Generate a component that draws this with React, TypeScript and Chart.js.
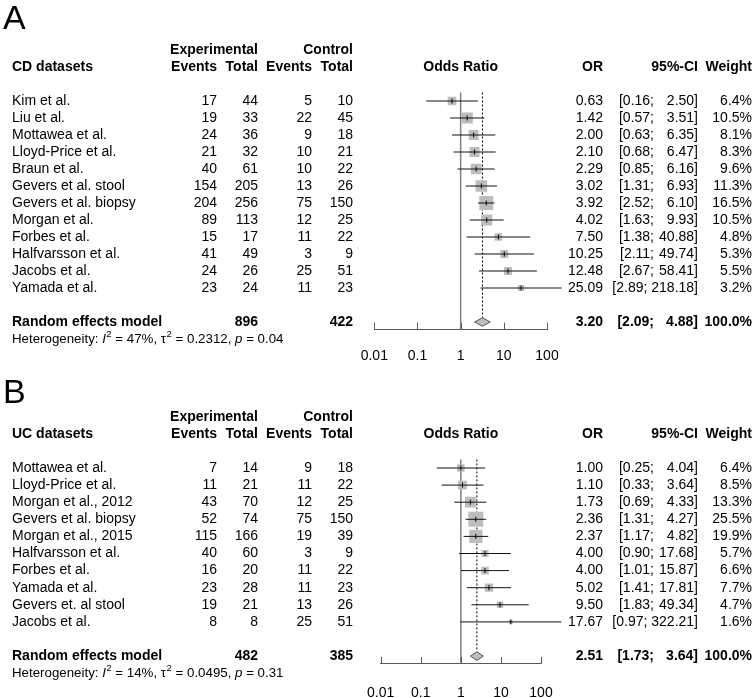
import React, { useEffect, useRef } from "react";
import { Chart, registerables } from "chart.js";

Chart.register(...registerables);

const FONT = "'Liberation Sans', Arial, Helvetica, sans-serif";

// ---------- Panel A: CD datasets ----------
const studiesA = [
  "Kim et al.", "Liu et al.", "Mottawea et al.", "Lloyd-Price et al.", "Braun et al.",
  "Gevers et al. stool", "Gevers et al. biopsy", "Morgan et al.", "Forbes et al.",
  "Halfvarsson et al.", "Jacobs et al.", "Yamada et al.",
];
const expEventsA = [17, 19, 24, 21, 40, 154, 204, 89, 15, 41, 24, 23];
const expTotalA = [44, 33, 36, 32, 61, 205, 256, 113, 17, 49, 26, 24];
const ctrlEventsA = [5, 22, 9, 10, 10, 13, 75, 12, 11, 3, 25, 11];
const ctrlTotalA = [10, 45, 18, 21, 22, 26, 150, 25, 22, 9, 51, 23];
const orA = [0.63, 1.42, 2.0, 2.1, 2.29, 3.02, 3.92, 4.02, 7.5, 10.25, 12.48, 25.09];
const loA = [0.16, 0.57, 0.63, 0.68, 0.85, 1.31, 2.52, 1.63, 1.38, 2.11, 2.67, 2.89];
const hiA = [2.5, 3.51, 6.35, 6.47, 6.16, 6.93, 6.1, 9.93, 40.88, 49.74, 58.41, 218.18];
const weightA = [6.4, 10.5, 8.1, 8.3, 9.6, 11.3, 16.5, 10.5, 4.8, 5.3, 5.5, 3.2];
const pooledA = { or: 3.2, lo: 2.09, hi: 4.88, expTotal: 896, ctrlTotal: 422 };
const hetA = { i2: "47", tau2: "0.2312", p: "0.04" };

// ---------- Panel B: UC datasets ----------
const studiesB = [
  "Mottawea et al.", "Lloyd-Price et al.", "Morgan et al., 2012", "Gevers et al. biopsy",
  "Morgan et al., 2015", "Halfvarsson et al.", "Forbes et al.", "Yamada et al.",
  "Gevers et. al stool", "Jacobs et al.",
];
const expEventsB = [7, 11, 43, 52, 115, 40, 16, 23, 19, 8];
const expTotalB = [14, 21, 70, 74, 166, 60, 20, 28, 21, 8];
const ctrlEventsB = [9, 11, 12, 75, 19, 3, 11, 11, 13, 25];
const ctrlTotalB = [18, 22, 25, 150, 39, 9, 22, 23, 26, 51];
const orB = [1.0, 1.1, 1.73, 2.36, 2.37, 4.0, 4.0, 5.02, 9.5, 17.67];
const loB = [0.25, 0.33, 0.69, 1.31, 1.17, 0.9, 1.01, 1.41, 1.83, 0.97];
const hiB = [4.04, 3.64, 4.33, 4.27, 4.82, 17.68, 15.87, 17.81, 49.34, 322.21];
const weightB = [6.4, 8.5, 13.3, 25.5, 19.9, 5.7, 6.6, 7.7, 4.7, 1.6];
const pooledB = { or: 2.51, lo: 1.73, hi: 3.64, expTotal: 482, ctrlTotal: 385 };
const hetB = { i2: "14", tau2: "0.0495", p: "0.31" };

// axis
const AXIS_TICKS = [0.01, 0.1, 1, 10, 100];
const AXIS_LABELS = ["0.01", "0.1", "1", "10", "100"];

const AXIS_H = 40;
const AXIS_COLOR = "#5a5a5a";

type PanelSpec = {
  letter: string;
  title: string;
  studies: string[];
  expEvents: number[];
  expTotal: number[];
  ctrlEvents: number[];
  ctrlTotal: number[];
  or: number[];
  lo: number[];
  hi: number[];
  weight: number[];
  pooled: { or: number; lo: number; hi: number; expTotal: number; ctrlTotal: number };
  het: { i2: string; tau2: string; p: string };
  canvasTop: number;
  canvasH: number;
  firstRowY: number;
  rowH: number;
  xLeft: number;
  xRight: number;
  boxMax: number;
  tickPad: number;
  letterBaseline: number;
};

const panelA: PanelSpec = {
  letter: "A", title: "CD datasets", studies: studiesA,
  expEvents: expEventsA, expTotal: expTotalA, ctrlEvents: ctrlEventsA, ctrlTotal: ctrlTotalA,
  or: orA, lo: loA, hi: hiA, weight: weightA, pooled: pooledA, het: hetA,
  canvasTop: 0, canvasH: 380, firstRowY: 101, rowH: 17, xLeft: 374.3, xRight: 547,
  boxMax: 14, tickPad: 18, letterBaseline: 29,
};

const panelB: PanelSpec = {
  letter: "B", title: "UC datasets", studies: studiesB,
  expEvents: expEventsB, expTotal: expTotalB, ctrlEvents: ctrlEventsB, ctrlTotal: ctrlTotalB,
  or: orB, lo: loB, hi: hiB, weight: weightB, pooled: pooledB, het: hetB,
  canvasTop: 349, canvasH: 370, firstRowY: 119, rowH: 17.1, xLeft: 380.7, xRight: 541,
  boxMax: 15, tickPad: 20.5, letterBaseline: 54,
};

// column anchors (right-aligned unless noted)
const COL_NAME = 12;
const COL_EXP_EV = 217;
const COL_EXP_TOT = 258;
const COL_CTL_EV = 312;
const COL_CTL_TOT = 353;
const COL_OR = 603;
const COL_CI_LO = 654;
const COL_CI_HI = 698;
const COL_W = 752;

function makeConfig(p: PanelSpec): any {
  const n = p.studies.length;
  const yMin = -3.5;
  const yMax = n + 2.45;
  const axisY = p.firstRowY + (yMax - 1) * p.rowH;
  const top = p.firstRowY - (1 - yMin) * p.rowH;
  const wMax = Math.max(...p.weight);
  const randRow = n + 2;
  const hetRow = n + 3;
  const dH = 0.25;

  const points = p.or.map((v, i) => ({ x: v, y: i + 1 }));

  const ciSets = p.or.map((_, i) => ({
    type: "line",
    data: [{ x: p.lo[i], y: i + 1 }, { x: p.hi[i], y: i + 1 }],
    borderColor: "#111",
    borderWidth: 1,
    pointRadius: 0,
    fill: false,
    clip: false,
    order: 2,
  }));

  const datasets: any[] = [
    {
      type: "scatter",
      data: points,
      pointStyle: "line",
      pointRotation: 90,
      pointRadius: 2.5,
      pointBorderColor: "#000",
      pointBorderWidth: 1,
      order: 0,
    },
    {
      type: "line",
      data: [
        { x: p.pooled.lo, y: randRow },
        { x: p.pooled.or, y: randRow - dH },
        { x: p.pooled.hi, y: randRow },
        { x: p.pooled.or, y: randRow + dH },
        { x: p.pooled.lo, y: randRow },
      ],
      borderColor: "#555",
      borderWidth: 1,
      backgroundColor: "#bebebe",
      fill: "shape",
      pointRadius: 0,
      tension: 0,
      order: 1,
    },
    ...ciSets,
    {
      type: "scatter",
      data: points,
      pointStyle: "rect",
      pointRadius: p.weight.map((w) => (p.boxMax * Math.sqrt(w / wMax)) / Math.SQRT2),
      pointBackgroundColor: "#bdbdbd",
      pointBorderWidth: 0,
      order: 3,
    },
    {
      type: "line",
      data: [{ x: p.pooled.or, y: 0.5 }, { x: p.pooled.or, y: randRow - dH }],
      borderColor: "#000",
      borderWidth: 1,
      borderDash: [2, 2],
      pointRadius: 0,
      fill: false,
      order: 4,
    },
    {
      type: "line",
      data: [{ x: 1, y: 0.5 }, { x: 1, y: yMax }],
      borderColor: "#808080",
      borderWidth: 1.5,
      pointRadius: 0,
      fill: false,
      clip: false,
      order: 5,
    },
  ];

  const textPlugin = {
    id: "forestText" + p.letter,
    afterDraw(chart: any) {
      const ctx = chart.ctx as CanvasRenderingContext2D;
      const ys = chart.scales.y;
      const xs = chart.scales.x;
      const rowPx = (r: number) => ys.getPixelForValue(r);
      ctx.save();
      ctx.fillStyle = "#000";

      // panel letter
      ctx.font = `34px ${FONT}`;
      ctx.textAlign = "left";
      ctx.textBaseline = "alphabetic";
      ctx.fillText(p.letter, 3, p.letterBaseline);

      const setFont = (bold: boolean) => {
        ctx.font = `${bold ? "bold " : ""}14px ${FONT}`;
      };
      const put = (s: string, x: number, row: number, align: CanvasTextAlign, bold = false) => {
        setFont(bold);
        ctx.textAlign = align;
        ctx.textBaseline = "middle";
        ctx.fillText(s, x, rowPx(row));
      };
      const putCI = (lo: number, hi: number, row: number, bold = false) => {
        setFont(bold);
        const hiStr = hi.toFixed(2) + "]";
        const loStr = "[" + lo.toFixed(2) + ";";
        const hiLeft = COL_CI_HI - ctx.measureText(hiStr).width;
        const gap = ctx.measureText(" ").width;
        const loRight = Math.min(COL_CI_LO, hiLeft - gap);
        put(hiStr, COL_CI_HI, row, "right", bold);
        put(loStr, loRight, row, "right", bold);
      };

      // headers
      put("Experimental", COL_EXP_TOT, -2, "right", true);
      put("Control", COL_CTL_TOT, -2, "right", true);
      put(p.title, COL_NAME, -1, "left", true);
      put("Events", COL_EXP_EV, -1, "right", true);
      put("Total", COL_EXP_TOT, -1, "right", true);
      put("Events", COL_CTL_EV, -1, "right", true);
      put("Total", COL_CTL_TOT, -1, "right", true);
      put("Odds Ratio", xs.getPixelForValue(1), -1, "center", true);
      put("OR", COL_OR, -1, "right", true);
      put("95%-CI", COL_CI_HI, -1, "right", true);
      put("Weight", COL_W, -1, "right", true);

      // study rows
      p.studies.forEach((s, i) => {
        const r = i + 1;
        put(s, COL_NAME, r, "left");
        put(String(p.expEvents[i]), COL_EXP_EV, r, "right");
        put(String(p.expTotal[i]), COL_EXP_TOT, r, "right");
        put(String(p.ctrlEvents[i]), COL_CTL_EV, r, "right");
        put(String(p.ctrlTotal[i]), COL_CTL_TOT, r, "right");
        put(p.or[i].toFixed(2), COL_OR, r, "right");
        putCI(p.lo[i], p.hi[i], r);
        put(p.weight[i].toFixed(1) + "%", COL_W, r, "right");
      });

      // pooled row
      put("Random effects model", COL_NAME, randRow, "left", true);
      put(String(p.pooled.expTotal), COL_EXP_TOT, randRow, "right", true);
      put(String(p.pooled.ctrlTotal), COL_CTL_TOT, randRow, "right", true);
      put(p.pooled.or.toFixed(2), COL_OR, randRow, "right", true);
      putCI(p.pooled.lo, p.pooled.hi, randRow, true);
      put("100.0%", COL_W, randRow, "right", true);

      // heterogeneity
      const hy = rowPx(hetRow);
      const spans: { t: string; it?: boolean; sup?: boolean }[] = [
        { t: "Heterogeneity: " },
        { t: "I", it: true },
        { t: "2", sup: true },
        { t: ` = ${p.het.i2}%, \u03c4` },
        { t: "2", sup: true },
        { t: ` = ${p.het.tau2}, ` },
        { t: "p", it: true },
        { t: ` = ${p.het.p}` },
      ];
      let hx = COL_NAME;
      ctx.textAlign = "left";
      ctx.textBaseline = "middle";
      for (const sp of spans) {
        if (sp.sup) {
          ctx.font = `9.5px ${FONT}`;
          ctx.fillText(sp.t, hx + 0.5, hy - 5);
          hx += ctx.measureText(sp.t).width + 0.5;
        } else {
          ctx.font = `${sp.it ? "italic " : ""}13.3px ${FONT}`;
          ctx.fillText(sp.t, hx, hy);
          hx += ctx.measureText(sp.t).width;
        }
      }

      // upward tick marks on the x axis
      const ay = chart.chartArea.bottom;
      ctx.strokeStyle = AXIS_COLOR;
      ctx.lineWidth = 1;
      for (const v of AXIS_TICKS) {
        const px = Math.round(xs.getPixelForValue(v)) + 0.5;
        ctx.beginPath();
        ctx.moveTo(px, ay);
        ctx.lineTo(px, ay - 7);
        ctx.stroke();
      }
      ctx.restore();
    },
  };

  return {
    type: "scatter",
    data: { datasets },
    plugins: [textPlugin],
    options: {
      animation: false,
      responsive: false,
      devicePixelRatio: 1,
      events: [],
      layout: {
        padding: {
          left: p.xLeft,
          right: 755 - p.xRight,
          top: top,
          bottom: p.canvasH - axisY - AXIS_H,
        },
      },
      plugins: {
        legend: { display: false },
        tooltip: { enabled: false },
        title: { display: false },
      },
      scales: {
        x: {
          type: "logarithmic",
          position: "bottom",
          min: 0.01,
          max: 100,
          afterBuildTicks: (s: any) => {
            s.ticks = AXIS_TICKS.map((v) => ({ value: v }));
          },
          afterFit: (s: any) => {
            s.height = AXIS_H;
          },
          grid: { display: true, drawOnChartArea: false, drawTicks: false },
          border: { display: true, color: AXIS_COLOR, width: 1 },
          ticks: {
            autoSkip: false,
            maxRotation: 0,
            minRotation: 0,
            padding: p.tickPad,
            color: "#000",
            font: { family: FONT, size: 14 },
            callback: (_v: any, i: number) => AXIS_LABELS[i],
          },
        },
        y: {
          type: "linear",
          display: false,
          reverse: true,
          min: yMin,
          max: yMax,
        },
      },
    },
  };
}

function ForestPanel({ p }: { p: PanelSpec }) {
  const ref = useRef<HTMLCanvasElement>(null);
  useEffect(() => {
    const chart = new Chart(ref.current as HTMLCanvasElement, makeConfig(p));
    return () => chart.destroy();
  }, [p]);
  return (
    <canvas
      ref={ref}
      width={755}
      height={p.canvasH}
      style={{ position: "absolute", left: 0, top: p.canvasTop, width: 755, height: p.canvasH }}
    />
  );
}

export default function App() {
  return (
    <div
      style={{
        position: "absolute",
        left: 0,
        top: 0,
        width: 755,
        height: 698,
        overflow: "hidden",
        background: "#fff",
      }}
    >
      <ForestPanel p={panelA} />
      <ForestPanel p={panelB} />
    </div>
  );
}
